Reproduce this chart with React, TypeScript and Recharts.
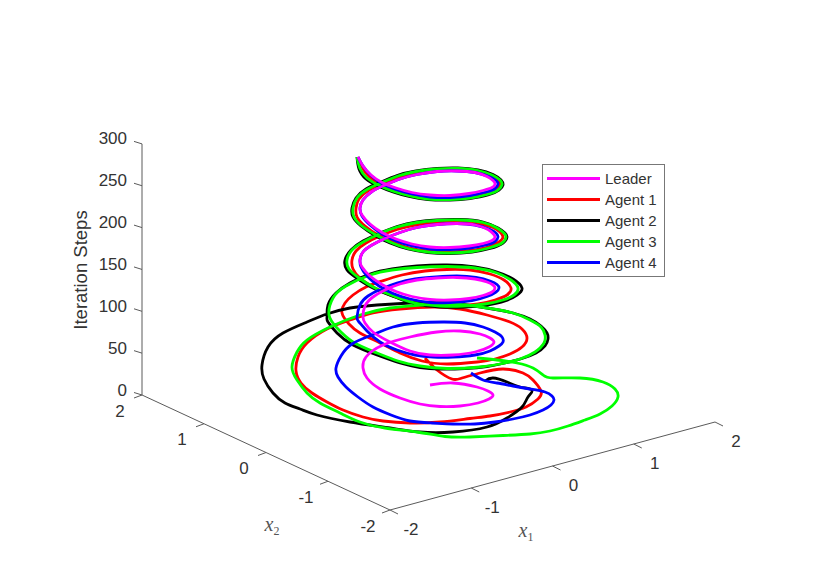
import { ComposedChart, Line, XAxis, YAxis, ReferenceLine, ReferenceDot, Legend } from 'recharts';

type Pt = [number, number];

const leaderTrace: Pt[] = [
  [430, 385], [453, 383], [477, 387], [488, 391], [493, 395], [489, 399], [478, 403], [460, 406], [440, 406.5], [420, 404], [400, 398], [380, 389], [367, 378], [363, 368], [366, 357], [383, 345], [410, 337], [437, 332], [460, 331], [480, 334], [490, 338], [494, 342], [489, 347], [475, 352], [453, 355], [430, 355], [410, 351], [390, 342], [373, 332], [365, 323], [363, 317],
  [365, 306], [373, 297], [385, 290], [400, 284], [417, 280], [437, 278], [457, 277.5], [475, 279], [487, 282], [493, 285], [495, 288], [492, 292], [483, 295.5], [469, 298.5], [450, 300], [430, 299.5], [412, 296.5], [396, 291.5], [382, 284.5], [370, 276], [362, 267], [360, 260],
  [363, 252], [372, 245], [385, 238.5], [400, 232.5], [417, 227.5], [437, 224.5], [457, 223.5], [475, 225], [488, 229.5], [493, 233.5], [495, 237], [492, 240.5], [483, 243.5], [469, 246], [450, 247.5], [430, 247], [412, 244], [396, 239], [382, 232.5], [370, 224], [362, 215], [360, 208],
  [363, 200], [372, 191.5], [385, 185], [400, 179], [417, 174.5], [437, 171.5], [457, 171], [475, 172.5], [487, 176.5], [493, 180.5], [495, 184], [492, 187.5], [483, 190.5], [469, 193.5], [450, 195.5], [430, 195], [412, 192.5], [396, 188], [382, 182.5], [371, 175], [363, 166], [358, 157],
];
const agent1Trace: Pt[] = [
  [425, 358], [437, 370], [452, 379], [462, 378], [480, 373], [503, 369], [523, 373], [533, 380], [541, 391], [538, 399], [526, 407], [510, 412], [490, 416], [470, 418.5], [440, 422], [410, 423], [383, 421], [363, 417], [343, 410], [327, 402], [312, 393], [301, 383], [296, 371], [298, 357], [307, 343], [327, 329], [350, 320], [373, 313], [400, 309], [433, 307], [460, 309], [487, 315], [510, 322], [522, 329], [527, 338], [522, 347], [510, 354], [495, 359], [477, 362], [447, 364], [422, 361], [400, 353], [380, 343], [360, 333], [349, 324], [342, 313],
  [345, 303], [353, 295], [366, 287], [382, 281], [402, 275], [425, 271], [447, 269.5], [470, 270], [490, 274], [504, 280], [511, 288], [507, 295], [495, 300], [478, 304], [455, 306], [430, 305], [408, 301], [390, 295], [373, 287], [360, 278], [353, 269], [352, 260],
  [356, 251], [366, 243], [380, 236], [397, 229.5], [415, 225], [437, 222], [457, 221], [477, 223], [493, 227.5], [500, 232], [503, 237], [499, 242], [488, 247], [470, 250.5], [450, 252], [430, 251], [410, 248], [393, 242], [378, 235], [365, 226], [357, 217], [356, 208],
  [359, 199], [369, 190], [383, 183.5], [398, 177.5], [416, 173], [437, 170.5], [457, 170], [477, 171.5], [491, 176], [498, 180], [500, 184], [497, 189], [487, 193], [470, 196.5], [450, 198.5], [430, 198], [411, 195], [395, 190.5], [381, 184.5], [369, 176.5], [362, 167], [358, 157],
];
const agent2Trace: Pt[] = [
  [485, 381], [493, 378], [507, 382], [520, 387], [532, 390], [528, 397], [522, 407], [507, 418], [487, 427], [453, 432], [420, 432], [390, 428], [350, 422], [317, 415], [300, 409], [285, 403], [273, 393], [264, 379], [262, 365], [268, 347], [283, 333], [307, 322], [327, 314], [350, 308], [377, 305], [410, 303], [447, 303], [487, 308], [513, 313], [530, 319], [541, 326], [547, 333], [548, 339], [545, 346], [536, 353], [522, 358.5], [505, 363], [487, 366.5], [465, 368.5], [440, 369], [420, 367.5], [400, 363], [377, 355], [353, 345], [337, 333], [328, 322], [327, 317],
  [328, 305], [336, 293], [350, 283], [370, 274], [392, 269], [417, 266], [447, 265], [475, 267], [497, 272], [513, 279], [522, 288], [517, 295], [505, 301], [487, 305], [465, 307], [440, 307], [415, 304], [395, 297], [375, 289], [358, 279], [347, 270], [345, 260],
  [351, 250], [363, 241], [380, 233], [397, 226.5], [417, 222], [437, 220], [460, 219.5], [483, 222], [498, 228], [505, 233], [507, 237], [503, 243], [490, 248.5], [472, 252], [450, 253.5], [428, 252.5], [408, 249], [390, 243], [375, 235.5], [361, 226], [353, 217], [352, 208],
  [356, 198], [366, 189], [381, 182], [397, 175.5], [416, 171], [437, 168.5], [458, 168], [478, 170], [493, 174.5], [501, 180], [503, 185], [499, 190], [488, 195], [470, 198.5], [450, 200], [428, 199.5], [409, 196.5], [393, 192], [378, 186], [366, 179], [359, 169], [357, 157],
];
const agent3Trace: Pt[] = [
  [477, 358], [497, 360], [517, 363], [533, 368], [543, 375], [553, 378], [580, 378], [603, 382], [615, 389], [618, 397], [612, 406], [600, 414], [585, 420], [568, 426], [550, 431], [530, 434], [503, 435.5], [470, 437], [445, 436.5], [417, 432], [385, 428], [360, 422], [340, 413], [320, 403], [307, 393], [297, 380], [292, 367], [297, 352], [307, 340], [330, 327], [360, 315], [390, 308], [423, 305], [455, 304], [487, 308], [513, 313], [530, 320], [541, 327], [545, 335], [544, 343], [535, 352], [520, 359], [500, 364], [480, 367], [447, 368.5], [420, 366], [398, 361], [377, 353], [353, 342], [337, 328], [329, 315],
  [333, 298], [346, 286], [370, 275], [392, 270], [417, 267.5], [447, 266.5], [475, 268], [497, 273], [511, 280], [518, 288], [514, 295], [503, 300], [485, 304], [463, 306], [440, 306], [415, 303], [395, 296.5], [375, 288], [359, 278], [349, 269], [347, 260],
  [352, 250], [364, 241.5], [380, 233.5], [397, 227], [417, 222.5], [437, 220.5], [460, 220], [483, 222.5], [497, 228], [504, 233], [506, 237], [502, 243], [489, 248], [472, 251.5], [450, 253], [428, 252], [408, 248.5], [391, 242.5], [376, 235], [362, 226], [354, 217], [353, 208],
  [357, 198], [367, 189.5], [382, 182.5], [398, 176], [416, 171.5], [437, 169], [458, 168.5], [478, 170.5], [492, 175], [500, 180], [502, 184.5], [498, 190], [487, 194.5], [470, 198], [450, 199.5], [428, 199], [410, 196], [394, 191.5], [379, 185.5], [367, 178], [360, 168.5], [357, 157],
];
const agent4Trace: Pt[] = [
  [471, 373], [483, 380], [497, 383], [513, 386], [530, 389], [545, 392], [552, 396], [554, 400], [551, 405], [543, 410], [530, 415], [513, 419], [495, 422], [475, 424], [453, 424], [432, 423], [410, 421], [391, 415], [373, 407], [358, 397], [346, 387], [338, 377], [336, 368], [341, 356], [352, 344], [372, 335], [393, 327], [417, 323], [443, 322], [465, 323], [483, 327], [495, 332], [502, 337], [503, 342], [499, 346], [490, 351], [475, 355], [453, 357], [433, 357], [415, 355], [397, 350], [380, 342], [367, 331], [359, 322], [357, 317],
  [360, 305], [368, 296], [381, 289], [397, 283], [415, 279], [436, 277], [457, 276], [476, 277.5], [490, 281], [497, 284.5], [499, 288], [496, 292], [487, 296.5], [472, 300.5], [450, 302.5], [430, 302.5], [410, 299], [393, 293.5], [379, 286], [367, 276], [361, 267], [360, 260],
  [363, 252], [372, 245], [385, 238.5], [400, 232.5], [417, 227.5], [437, 224.5], [457, 223.5], [475, 225], [489, 229], [496, 233], [498, 237], [495, 241.5], [486, 245], [470, 248], [450, 249.5], [430, 249], [412, 246], [396, 241], [382, 234], [370, 225], [362, 216], [360, 208],
  [363, 200], [372, 191.5], [385, 185], [400, 179], [417, 174.5], [437, 171.5], [457, 171], [475, 172.5], [489, 176.5], [496, 180.5], [498, 184], [495, 188.5], [486, 192], [470, 195.5], [450, 197.5], [430, 197], [412, 194], [396, 189.5], [382, 183.5], [371, 175.5], [363, 166], [358, 157],
];

const x1Ticks = [-2, -1, 0, 1, 2];
const x2Ticks = [-2, -1, 0, 1, 2];
const stepTicks = [0, 50, 100, 150, 200, 250, 300];
const legendOrder = ['Leader', 'Agent 1', 'Agent 2', 'Agent 3', 'Agent 4'];

// leader is painted last, it sits on top of the agents in the picture
const seriesList = [
  { name: 'Agent 1', color: '#ff0000', trace: agent1Trace },
  { name: 'Agent 2', color: '#000000', trace: agent2Trace },
  { name: 'Agent 3', color: '#00ff00', trace: agent3Trace },
  { name: 'Agent 4', color: '#0000ff', trace: agent4Trace },
  { name: 'Leader', color: '#ff00ff', trace: leaderTrace },
];

const W = 830;
const H = 587;
const axisColor = '#5a5a5a';
const textColor = '#333333';
const sans = '"Liberation Sans", Arial, sans-serif';

// view projection of the 3D axes box
function project(x1: number, x2: number, step: number) {
  return {
    u: 390 + (x1 + 2) * 81.25 - (x2 + 2) * 62,
    v: 510 - (x1 + 2) * 22 - (x2 + 2) * 28.75 - step * 0.837,
  };
}

function seg(a: { u: number; v: number }, b: { u: number; v: number }) {
  return [{ x: a.u, y: a.v }, { x: b.u, y: b.v }] as any;
}

function tickText(label: string, anchor: 'middle' | 'end') {
  return (p: any) => (
    <text x={p.cx} y={p.cy} textAnchor={anchor} dominantBaseline="central" fontFamily={sans} fontSize={17} fill={textColor}>
      {label}
    </text>
  );
}

function mathLabel(sub: string) {
  return (p: any) => (
    <text x={p.cx} y={p.cy} textAnchor="middle" fontFamily='"Liberation Serif", serif' fontSize={20} fill="#555555">
      <tspan fontStyle="italic">x</tspan>
      <tspan dy={4} fontSize={12}>{sub}</tspan>
    </text>
  );
}

function LegendBox({ payload }: any) {
  return (
    <div style={{ boxSizing: 'border-box', width: 123, height: 113, border: '1px solid #777', background: '#fff', paddingTop: 3 }}>
      {(payload || []).map((item: any) => (
        <div key={item.value} style={{ display: 'flex', alignItems: 'center', height: 21 }}>
          <span style={{ display: 'inline-block', marginLeft: 4, width: 53, height: 3, background: item.color }} />
          <span style={{ marginLeft: 5, fontFamily: sans, fontSize: 15, color: textColor, whiteSpace: 'nowrap' }}>{item.value}</span>
        </div>
      ))}
    </div>
  );
}

export default function App() {
  const corner = project(-2, -2, 0);
  const back = project(-2, 2, 0);
  return (
    <div style={{ position: 'absolute', left: 0, top: 0, width: W, height: H, background: '#fff' }}>
      <ComposedChart width={W} height={H} margin={{ top: 0, right: 0, bottom: 0, left: 0 }}>
        <XAxis type="number" dataKey="u" domain={[0, W]} hide allowDuplicatedCategory />
        <YAxis type="number" domain={[0, H]} reversed hide />

        <ReferenceLine segment={seg(corner, project(2, -2, 0))} stroke={axisColor} />
        <ReferenceLine segment={seg(corner, back)} stroke={axisColor} />
        <ReferenceLine segment={seg(back, project(-2, 2, 300))} stroke={axisColor} />

        {x1Ticks.map((t) => {
          const p = project(t, -2, 0);
          return <ReferenceLine key={'x1' + t} segment={seg(p, { u: p.u + 8, v: p.v + 4 })} stroke={axisColor} />;
        })}
        {x2Ticks.map((t) => {
          const p = project(-2, t, 0);
          return <ReferenceLine key={'x2' + t} segment={seg(p, { u: p.u - 8, v: p.v + 3 })} stroke={axisColor} />;
        })}
        {stepTicks.map((t) => {
          const p = project(-2, 2, t);
          return <ReferenceLine key={'z' + t} segment={seg(p, { u: p.u - 8, v: p.v - 2.5 })} stroke={axisColor} />;
        })}

        {seriesList.map((s) => (
          <Line
            key={s.name}
            name={s.name}
            data={s.trace.map(([u, v]) => ({ u, v }))}
            dataKey="v"
            type="natural"
            stroke={s.color}
            strokeWidth={2.8}
            dot={false}
            activeDot={false}
            isAnimationActive={false}
          />
        ))}

        {x1Ticks.map((t) => {
          const p = project(t, -2, 0);
          return <ReferenceDot key={'lx1' + t} x={p.u + 21} y={p.v + 19} r={0} shape={tickText(String(t), 'middle')} />;
        })}
        {x2Ticks.map((t) => {
          const p = project(-2, t, 0);
          return <ReferenceDot key={'lx2' + t} x={p.u - 22} y={p.v + 16} r={0} shape={tickText(String(t), 'middle')} />;
        })}
        {stepTicks.map((t) => {
          const p = project(-2, 2, t);
          return <ReferenceDot key={'lz' + t} x={p.u - 15} y={p.v - 5} r={0} shape={tickText(String(t), 'end')} />;
        })}

        <ReferenceDot x={526} y={537} r={0} shape={mathLabel('1')} />
        <ReferenceDot x={272} y={531} r={0} shape={mathLabel('2')} />
        <ReferenceDot
          x={80}
          y={270}
          r={0}
          shape={(p: any) => (
            <text
              x={p.cx}
              y={p.cy}
              transform={`rotate(-90 ${p.cx} ${p.cy})`}
              textAnchor="middle"
              dominantBaseline="central"
              fontFamily={sans}
              fontSize={18.5}
              fill={textColor}
            >
              Iteration Steps
            </text>
          )}
        />

        <Legend
          layout="vertical"
          align="center"
          verticalAlign="middle"
          itemSorter={(item: any) => legendOrder.indexOf(item.value)}
          wrapperStyle={{ left: 542, top: 164, width: 123, height: 113 }}
          content={<LegendBox />}
        />
      </ComposedChart>
    </div>
  );
}
